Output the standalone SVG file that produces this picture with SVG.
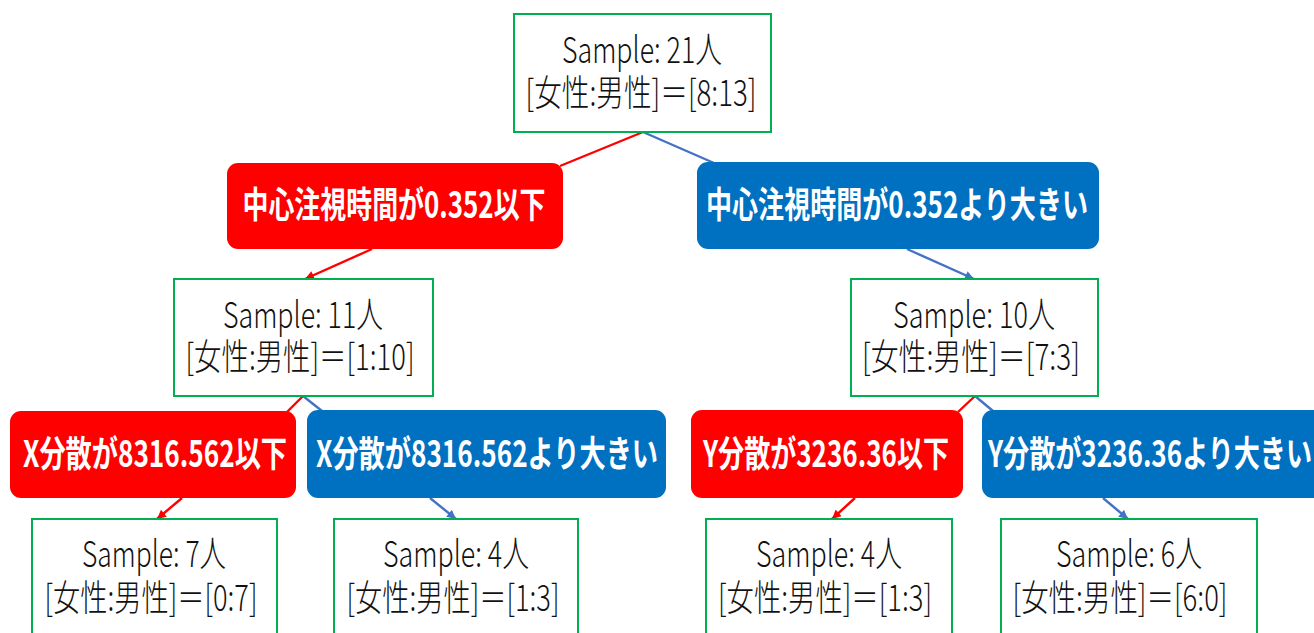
<svg xmlns="http://www.w3.org/2000/svg" width="1314" height="633" viewBox="0 0 1314 633">
<style>
.node rect{fill:#ffffff;stroke:#00B050;stroke-width:2}
.node text{font-family:"Noto Sans CJK JP","Noto Sans",sans-serif;font-size:36px;fill:#111111;text-anchor:middle;font-weight:300}
.lab text{font-family:"Noto Sans CJK JP","Noto Sans",sans-serif;font-size:36px;fill:#ffffff;text-anchor:middle;font-weight:700}
.red rect{fill:#FF0000}
.blue rect{fill:#0070C0}
.cr{stroke:#FF0000;stroke-width:2.4;fill:none}
.cb{stroke:#4472C4;stroke-width:2.4;fill:none}
</style>
<defs>
<marker id="ar" viewBox="0 0 10 10" refX="10" refY="5" markerWidth="10" markerHeight="9" markerUnits="userSpaceOnUse" orient="auto"><path d="M0,0 L10,5 L0,10 z" fill="#FF0000"/></marker>
<marker id="ab" viewBox="0 0 10 10" refX="10" refY="5" markerWidth="10" markerHeight="9" markerUnits="userSpaceOnUse" orient="auto"><path d="M0,0 L10,5 L0,10 z" fill="#4472C4"/></marker>
</defs>
<rect x="0" y="0" width="1314" height="633" fill="#ffffff"/>
<g id="connectors">
<line class="cr" x1="643" y1="132" x2="560" y2="166"/>
<line class="cb" x1="643" y1="132" x2="714" y2="163"/>
<line class="cr" x1="372" y1="249" x2="305" y2="279" marker-end="url(#ar)"/>
<line class="cb" x1="907" y1="249" x2="974" y2="279" marker-end="url(#ab)"/>
<line class="cr" x1="303" y1="396" x2="287" y2="412"/>
<line class="cb" x1="303" y1="396" x2="322" y2="411"/>
<line class="cr" x1="975" y1="396" x2="958" y2="412"/>
<line class="cb" x1="975" y1="396" x2="993" y2="411"/>
<line class="cr" x1="182" y1="498" x2="157" y2="519" marker-end="url(#ar)"/>
<line class="cb" x1="430" y1="498" x2="456" y2="519" marker-end="url(#ab)"/>
<line class="cr" x1="855" y1="498" x2="832" y2="519" marker-end="url(#ar)"/>
<line class="cb" x1="1103" y1="498" x2="1128" y2="519" marker-end="url(#ab)"/>
</g>
<g id="n_root" class="node">
<rect x="514" y="14" width="257" height="118"/>
<text x="642" y="63" textLength="160" lengthAdjust="spacingAndGlyphs">Sample: 21人</text>
<text x="641" y="106" textLength="231" lengthAdjust="spacingAndGlyphs">[女性:男性]＝[8:13]</text>
</g>
<g id="c_left1" class="lab red">
<rect x="227" y="163" width="336" height="86" rx="11"/>
<text x="394" y="218" textLength="303" lengthAdjust="spacingAndGlyphs">中心注視時間が0.352以下</text>
</g>
<g id="c_right1" class="lab blue">
<rect x="697" y="162" width="402" height="87" rx="11"/>
<text x="897" y="218" textLength="382" lengthAdjust="spacingAndGlyphs">中心注視時間が0.352より大きい</text>
</g>
<g id="n_left" class="node">
<rect x="174" y="279" width="259" height="117"/>
<text x="303" y="328" textLength="160" lengthAdjust="spacingAndGlyphs">Sample: 11人</text>
<text x="300" y="370" textLength="229" lengthAdjust="spacingAndGlyphs">[女性:男性]＝[1:10]</text>
</g>
<g id="n_right" class="node">
<rect x="851" y="279" width="247" height="117"/>
<text x="974" y="328" textLength="162" lengthAdjust="spacingAndGlyphs">Sample: 10人</text>
<text x="971" y="370" textLength="218" lengthAdjust="spacingAndGlyphs">[女性:男性]＝[7:3]</text>
</g>
<g id="c_xle" class="lab red">
<rect x="10" y="411" width="286" height="87" rx="11"/>
<text x="155" y="467" textLength="264" lengthAdjust="spacingAndGlyphs">X分散が8316.562以下</text>
</g>
<g id="c_xgt" class="lab blue">
<rect x="307" y="410" width="359" height="88" rx="11"/>
<text x="487" y="467" textLength="342" lengthAdjust="spacingAndGlyphs">X分散が8316.562より大きい</text>
</g>
<g id="c_yle" class="lab red">
<rect x="691" y="410" width="272" height="88" rx="11"/>
<text x="826" y="467" textLength="246" lengthAdjust="spacingAndGlyphs">Y分散が3236.36以下</text>
</g>
<g id="c_ygt" class="lab blue">
<rect x="982" y="410" width="345" height="88" rx="11"/>
<text x="1150" y="467" textLength="324" lengthAdjust="spacingAndGlyphs">Y分散が3236.36より大きい</text>
</g>
<g id="leaf1" class="node">
<rect x="32" y="519" width="245" height="130"/>
<text x="154" y="567" textLength="144" lengthAdjust="spacingAndGlyphs">Sample: 7人</text>
<text x="151" y="611" textLength="213" lengthAdjust="spacingAndGlyphs">[女性:男性]＝[0:7]</text>
</g>
<g id="leaf2" class="node">
<rect x="334" y="519" width="244" height="130"/>
<text x="456" y="567" textLength="146" lengthAdjust="spacingAndGlyphs">Sample: 4人</text>
<text x="453" y="611" textLength="213" lengthAdjust="spacingAndGlyphs">[女性:男性]＝[1:3]</text>
</g>
<g id="leaf3" class="node">
<rect x="706" y="519" width="246" height="130"/>
<text x="829" y="567" textLength="146" lengthAdjust="spacingAndGlyphs">Sample: 4人</text>
<text x="825" y="611" textLength="214" lengthAdjust="spacingAndGlyphs">[女性:男性]＝[1:3]</text>
</g>
<g id="leaf4" class="node">
<rect x="1001" y="519" width="256" height="130"/>
<text x="1129" y="567" textLength="146" lengthAdjust="spacingAndGlyphs">Sample: 6人</text>
<text x="1120" y="611" textLength="215" lengthAdjust="spacingAndGlyphs">[女性:男性]＝[6:0]</text>
</g>
</svg>
